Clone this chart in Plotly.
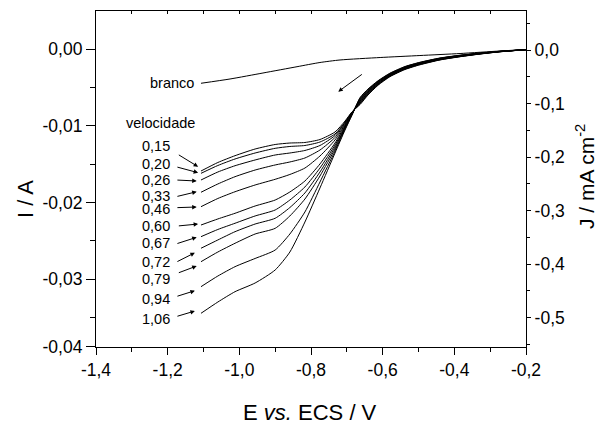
import plotly.graph_objects as go

# Potential grid (V vs ECS) shared by the voltammograms
E = [-1.107, -1.06, -1.012, -0.956, -0.90, -0.859, -0.817, -0.775, -0.733, -0.705, -0.686,
     -0.663, -0.641, -0.613, -0.58, -0.538, -0.496, -0.44, -0.384, -0.328, -0.273, -0.20]

# Currents in mA for each scan rate ("velocidade")
rates = ["0,15", "0,20", "0,26", "0,33", "0,46", "0,60", "0,67", "0,72", "0,79", "0,94", "1,06"]
v015 = [-15.91, -14.80, -13.91, -13.04, -12.45, -12.26, -12.19, -11.80, -10.82, -9.39, -8.21,
        -7.24, -6.00, -4.73, -3.62, -2.68, -2.06, -1.43, -1.01, -0.66, -0.37, -0.09]
v020 = [-16.21, -15.19, -14.34, -13.56, -12.95, -12.71, -12.58, -12.13, -11.08, -9.52, -8.25,
        -7.14, -5.92, -4.67, -3.57, -2.64, -2.02, -1.40, -0.99, -0.64, -0.36, -0.09]
v026 = [-17.08, -16.04, -15.22, -14.47, -13.82, -13.56, -13.23, -12.58, -11.28, -9.58, -8.29,
        -7.05, -5.84, -4.61, -3.53, -2.60, -1.99, -1.38, -0.97, -0.63, -0.35, -0.09]
v033 = [-18.68, -17.60, -16.65, -15.78, -15.12, -14.73, -14.21, -13.17, -11.54, -9.71, -8.34,
        -6.96, -5.77, -4.55, -3.48, -2.56, -1.96, -1.35, -0.95, -0.62, -0.34, -0.09]
v046 = [-20.56, -19.49, -18.61, -17.73, -16.99, -16.36, -15.52, -13.95, -11.86, -9.84, -8.38,
        -6.87, -5.69, -4.49, -3.44, -2.52, -1.92, -1.33, -0.93, -0.60, -0.34, -0.09]
v060 = [-22.95, -22.16, -21.42, -20.47, -19.69, -18.64, -17.21, -14.99, -12.26, -9.97, -8.42,
        -6.78, -5.61, -4.43, -3.39, -2.48, -1.89, -1.30, -0.91, -0.59, -0.33, -0.09]
v067 = [-24.47, -23.53, -22.72, -21.77, -20.99, -19.69, -17.99, -15.52, -12.52, -10.10, -8.47,
        -6.69, -5.53, -4.37, -3.34, -2.44, -1.86, -1.27, -0.89, -0.58, -0.32, -0.09]
v072 = [-25.98, -24.90, -23.82, -22.82, -22.07, -20.67, -18.77, -16.04, -12.78, -10.23, -8.51,
        -6.60, -5.45, -4.31, -3.30, -2.40, -1.82, -1.25, -0.87, -0.56, -0.32, -0.09]
v079 = [-27.73, -26.47, -25.33, -24.12, -23.38, -21.77, -19.56, -16.56, -13.04, -10.30, -8.55,
        -6.51, -5.38, -4.25, -3.25, -2.36, -1.79, -1.22, -0.85, -0.55, -0.31, -0.09]
v094 = [-30.99, -29.60, -28.38, -27.31, -26.21, -24.12, -21.25, -17.34, -13.30, -10.43, -8.61,
        -6.42, -5.30, -4.19, -3.21, -2.32, -1.76, -1.20, -0.83, -0.54, -0.30, -0.09]
v106 = [-34.46, -32.99, -31.64, -30.51, -28.81, -26.47, -22.56, -18.12, -13.56, -10.56, -8.67,
        -6.32, -5.22, -4.14, -3.16, -2.29, -1.73, -1.17, -0.81, -0.52, -0.30, -0.09]
series = [v015, v020, v026, v033, v046, v060, v067, v072, v079, v094, v106]

# Blank ("branco") curve
E_branco = [-1.107, -1.026, -0.934, -0.839, -0.775, -0.719, -0.607, -0.496, -0.384, -0.273, -0.20]
I_branco = [-4.47, -3.91, -3.13, -2.31, -1.76, -1.43, -1.11, -0.85, -0.59, -0.26, -0.07]

# Axis tick labels
x_ticks = [-1.4, -1.2, -1.0, -0.8, -0.6, -0.4, -0.2]
x_text = ["-1,4", "-1,2", "-1,0", "-0,8", "-0,6", "-0,4", "-0,2"]
yl_ticks = [0.0, -0.01, -0.02, -0.03, -0.03884]
yl_text = ["0,00", "-0,01", "-0,02", "-0,03", "-0,04"]
yr_ticks = [0.0, -0.1, -0.2, -0.3, -0.4, -0.5]
yr_text = ["0,0", "-0,1", "-0,2", "-0,3", "-0,4", "-0,5"]

# Label placement (E, I) for the rate labels and their arrows
label_y = [-0.01265, -0.01499, -0.01708, -0.01917, -0.02090, -0.02308, -0.02533, -0.02773, -0.02999, -0.03263, -0.03520]
arrow_tail = [(-1.173, -0.01369), (-1.177, -0.01535), (-1.177, -0.01708), (-1.177, -0.01926),
              (-1.177, -0.02069), (-1.173, -0.02308), (-1.177, -0.02542), (-1.177, -0.02781),
              (-1.173, -0.02924), (-1.177, -0.03229), (-1.177, -0.03490)]
arrow_head = [(-1.115, -0.01535), (-1.115, -0.01613), (-1.119, -0.01721), (-1.119, -0.01861),
              (-1.119, -0.02060), (-1.115, -0.02282), (-1.119, -0.02455), (-1.124, -0.02656),
              (-1.119, -0.02829), (-1.124, -0.03151), (-1.124, -0.03416)]

FONT = "Liberation Sans, Arial, sans-serif"
fig = go.Figure()

line = dict(color="black", width=1, shape="spline", smoothing=0.6)
for name, vals in zip(rates, series):
    fig.add_trace(go.Scatter(x=E, y=[v / 1000 for v in vals], mode="lines", line=line,
                             name=name, showlegend=False, hoverinfo="skip"))
fig.add_trace(go.Scatter(x=E_branco, y=[v / 1000 for v in I_branco], mode="lines", line=line,
                         name="branco", showlegend=False, hoverinfo="skip"))
# invisible traces to activate the top and right axes
fig.add_trace(go.Scatter(x=[-1.4], y=[0], xaxis="x2", yaxis="y", mode="markers",
                         marker=dict(opacity=0), showlegend=False, hoverinfo="skip"))
fig.add_trace(go.Scatter(x=[-1.4], y=[0], xaxis="x", yaxis="y2", mode="markers",
                         marker=dict(opacity=0), showlegend=False, hoverinfo="skip"))

axis_common = dict(showline=True, linecolor="black", linewidth=1.2, showgrid=False,
                   zeroline=False, tickcolor="black", tickwidth=1.2,
                   tickfont=dict(family=FONT, size=17.5, color="black"))

fig.update_layout(
    width=600, height=425,
    margin=dict(l=96, r=74, t=11, b=78),
    paper_bgcolor="white", plot_bgcolor="white",
    xaxis=dict(range=[-1.4, -0.2], tickmode="array", tickvals=x_ticks, ticktext=x_text,
               ticks="outside", ticklen=7,
               minor=dict(tickmode="array", tickvals=[-1.3, -1.1, -0.9, -0.7, -0.5, -0.3],
                          ticks="outside", ticklen=4, tickcolor="black", tickwidth=1.2),
               **axis_common),
    xaxis2=dict(range=[-1.4, -0.2], overlaying="x", side="top", tickmode="array",
                tickvals=[-1.3, -1.2, -1.1, -1.0, -0.9, -0.8, -0.7, -0.6, -0.5, -0.4, -0.3],
                showticklabels=False, ticks="inside", ticklen=3,
                **{k: v for k, v in axis_common.items() if k != "tickfont"}),
    yaxis=dict(range=[-0.038853, 0.004954], tickmode="array", tickvals=yl_ticks, ticktext=yl_text,
               ticks="outside", ticklen=9,
               minor=dict(tickmode="array", tickvals=[-0.005, -0.015, -0.025, -0.035],
                          ticks="outside", ticklen=5, tickcolor="black", tickwidth=1.2),
               **axis_common),
    yaxis2=dict(range=[-0.5551, 0.0729], overlaying="y", side="right", tickmode="array",
                tickvals=yr_ticks, ticktext=yr_text, ticks="outside", ticklen=4,
                minor=dict(tickmode="array",
                           tickvals=[0.05, -0.05, -0.15, -0.25, -0.35, -0.45, -0.55],
                           ticks="outside", ticklen=3, tickcolor="black", tickwidth=1.2),
                **axis_common),
)

title_font = dict(family=FONT, size=22, color="black")
lab_font = dict(family=FONT, size=14.5, color="black")
ann = []
ann.append(dict(text="I / A", xref="paper", yref="paper", x=-0.1628, y=0.4405,
                xanchor="center", yanchor="middle", textangle=-90, showarrow=False, font=title_font))
ann.append(dict(text="E <i>vs.</i> ECS / V", xref="paper", yref="paper", x=0.4977, y=-0.1935,
                xanchor="center", yanchor="middle", showarrow=False, font=title_font))
ann.append(dict(text="J / mA cm<sup>-2</sup>", xref="paper", yref="paper", x=1.1372, y=0.509,
                xanchor="center", yanchor="middle", textangle=-90, showarrow=False,
                font=dict(family=FONT, size=21, color="black")))
ann.append(dict(text="velocidade", x=-1.221, y=-0.00969, xref="x", yref="y", showarrow=False,
                font=lab_font))
ann.append(dict(text="branco", x=-1.121, y=-0.00447, xref="x", yref="y", xanchor="right",
                showarrow=False, font=lab_font))
for name, ly, (tx, ty), (hx, hy) in zip(rates, label_y, arrow_tail, arrow_head):
    ann.append(dict(text=name, x=-1.188, y=ly, xref="x", yref="y", xanchor="right",
                    showarrow=False, font=lab_font))
    ann.append(dict(text="", x=hx, y=hy, ax=tx, ay=ty, xref="x", yref="y", axref="x", ayref="y",
                    showarrow=True, arrowhead=2, arrowsize=0.9, arrowwidth=1, arrowcolor="black"))
# scan direction arrow
ann.append(dict(text="", x=-0.724, y=-0.00557, ax=-0.654, ay=-0.00317, xref="x", yref="y",
                axref="x", ayref="y", showarrow=True, arrowhead=2, arrowsize=0.9, arrowwidth=1,
                arrowcolor="black"))
fig.update_layout(annotations=ann)

fig.write_html("out.html")
